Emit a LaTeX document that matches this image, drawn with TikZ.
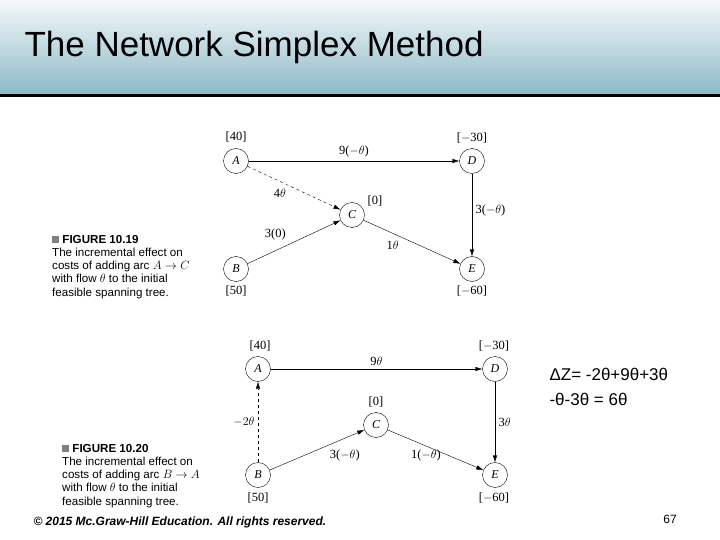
\documentclass[tikz,border=0pt]{standalone}
\usepackage{fontspec}
\setmainfont{Liberation Serif}
\setsansfont{Liberation Sans}
\usetikzlibrary{arrows.meta}
\definecolor{headtop}{RGB}{245,248,250}
\definecolor{headbot}{RGB}{140,186,200}
\tikzset{
	vertex/.style={circle,draw,thin,minimum size=25pt,inner sep=0pt,font=\itshape\fontsize{12}{14}\selectfont},
	arc/.style={-{Latex[length=7pt,width=4.5pt]},thin},
	lbl/.style={font=\fontsize{12.5}{14}\selectfont},
	figcap/.style={font=\sffamily\fontsize{11.6}{13.2}\selectfont,align=left,anchor=north west,inner sep=0pt}
}
\begin{document}
\begin{tikzpicture}[x=1pt,y=-1pt]
		\useasboundingbox (0,0) rectangle (720,540);
		%%Header
		\shade[top color=headtop,bottom color=headbot] (0,0) rectangle (720,94);
		\draw[line width=3pt] (0,96)--(720,96);
		\node[anchor=west,font=\sffamily\fontsize{35}{38}\selectfont] (title) at (21,47) {The Network Simplex Method};

		%%Figure 10.19
		\node[vertex] (A1) at (236,161) {A};
		\node[vertex] (D1) at (472,161) {D};
		\node[vertex] (C1) at (352,215) {C};
		\node[vertex] (B1) at (236,269) {B};
		\node[vertex] (E1) at (472,269) {E};

		\node[lbl] (a1) at (236,137) {[40]};
		\node[lbl] (d1) at (472,138) {[$-$30]};
		\node[lbl] (c1) at (375,201) {[0]};
		\node[lbl] (b1) at (236,291) {[50]};
		\node[lbl] (e1) at (472,291) {[$-$60]};

		\draw[arc] (A1)--(D1) node[lbl,pos=0.5,above] {9($-\theta$)};
		\draw[arc,dashed] (A1)--(C1) node[lbl,pos=0.45,below left] {4$\theta$};
		\draw[arc] (B1)--(C1) node[lbl,pos=0.45,above left] {3(0)};
		\draw[arc] (C1)--(E1) node[lbl,pos=0.4,below left] {1$\theta$};
		\draw[arc] (D1)--(E1) node[lbl,pos=0.45,right] {3($-\theta$)};

		\node[figcap] (cap1) at (52,235) {{\color{gray}\rule{7pt}{7pt}}\ \textbf{FIGURE 10.19}\\The incremental effect on\\costs of adding arc $A\rightarrow C$\\with flow $\theta$ to the initial\\feasible spanning tree.};

		%%Figure 10.20
		\node[vertex] (A2) at (258,369) {A};
		\node[vertex] (D2) at (495,369) {D};
		\node[vertex] (C2) at (376,425) {C};
		\node[vertex] (B2) at (258,475) {B};
		\node[vertex] (E2) at (495,475) {E};

		\node[lbl] (a2) at (260,346) {[40]};
		\node[lbl] (d2) at (494,346) {[$-$30]};
		\node[lbl] (c2) at (376,402) {[0]};
		\node[lbl] (b2) at (258,498) {[50]};
		\node[lbl] (e2) at (494,498) {[$-$60]};

		\draw[arc] (A2)--(D2) node[lbl,pos=0.5,above] {9$\theta$};
		\draw[arc,dashed] (B2)--(A2) node[lbl,pos=0.5,left] {$-2\theta$};
		\draw[arc] (B2)--(C2) node[lbl,pos=0.6,below right] {3($-\theta$)};
		\draw[arc] (C2)--(E2) node[lbl,pos=0.4,below] {1($-\theta$)};
		\draw[arc] (D2)--(E2) node[lbl,pos=0.5,right] {3$\theta$};

		\node[figcap] (cap2) at (62,444) {{\color{gray}\rule{7pt}{7pt}}\ \textbf{FIGURE 10.20}\\The incremental effect on\\costs of adding arc $B\rightarrow A$\\with flow $\theta$ to the initial\\feasible spanning tree.};

		%%Delta Z
		\node[anchor=west,font=\sffamily\fontsize{17}{25}\selectfont,align=left] (dz) at (546,387) {ΔZ= -2θ+9θ+3θ\\-θ-3θ = 6θ};

		%%Footer
		\node[anchor=west,font=\sffamily\fontsize{12}{14}\selectfont\bfseries\itshape] (foot) at (30,522) {© 2015 Mc.Graw-Hill Education. All rights reserved.};
		\node[font=\sffamily\fontsize{12}{14}\selectfont] (page) at (670,519) {67};
\end{tikzpicture}
\end{document}
